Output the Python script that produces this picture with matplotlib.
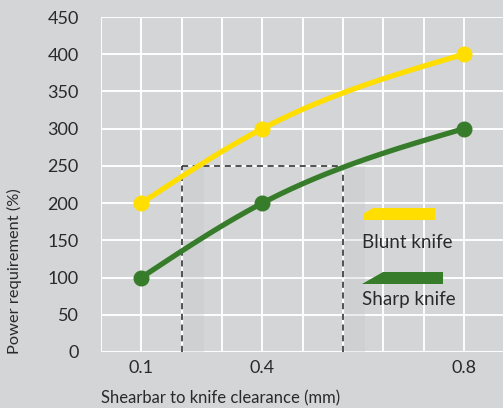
import numpy as np
import matplotlib
matplotlib.use("Agg")
from matplotlib import pyplot as plt
from matplotlib.patches import Polygon

# Data: clearance values sit on grid slots (one white column per slot)
clearance_labels = ["0.1", "0.4", "0.8"]
slot = [1, 4, 9]
blunt = [200, 300, 400]
sharp = [100, 200, 300]
marked_slots = [2, 6]
marked_power = 250

bg = "#d4d5d6"
yellow = "#ffde00"
green = "#367c2b"
text_color = "#2a2a2a"

plt.rcParams["font.family"] = ["Lato", "DejaVu Sans"]


def natural_spline(xs, ys, fine):
    """Natural cubic spline through the given points, evaluated on fine."""
    xs = np.asarray(xs, float)
    ys = np.asarray(ys, float)
    n = len(xs)
    h = np.diff(xs)
    a = np.zeros((n, n))
    r = np.zeros(n)
    a[0, 0] = a[-1, -1] = 1
    for i in range(1, n - 1):
        a[i, i - 1] = h[i - 1]
        a[i, i] = 2 * (h[i - 1] + h[i])
        a[i, i + 1] = h[i]
        r[i] = 6 * ((ys[i + 1] - ys[i]) / h[i] - (ys[i] - ys[i - 1]) / h[i - 1])
    m = np.linalg.solve(a, r)
    k = np.clip(np.searchsorted(xs, fine) - 1, 0, n - 2)
    x0, x1, hk = xs[k], xs[k + 1], h[k]
    return (m[k] * (x1 - fine) ** 3 / (6 * hk) + m[k + 1] * (fine - x0) ** 3 / (6 * hk)
            + (ys[k] / hk - m[k] * hk / 6) * (x1 - fine)
            + (ys[k + 1] / hk - m[k + 1] * hk / 6) * (fine - x0))


figure = plt.figure(figsize=(5.03, 4.08), dpi=100, facecolor=bg)
axis = figure.add_axes([0.2008, 0.1373, 0.7992, 0.821])
axis.set_facecolor(bg)

for side in axis.spines.values():
    side.set_visible(False)

axis.set_xlim(0, 9.97)
axis.set_ylim(0, 450)

# White grid: one column per slot, a row every 50 %
axis.set_xticks(np.arange(0, 10), minor=True)
axis.set_xticks(slot)
axis.set_xticklabels(clearance_labels)
axis.set_yticks(np.arange(0, 451, 50))
axis.grid(True, which="both", color="white", linewidth=1.4)
axis.set_axisbelow(True)
axis.tick_params(which="both", length=0, labelsize=13, colors=text_color)
axis.tick_params(axis="y", pad=16)
axis.tick_params(axis="x", pad=6)

# Faint shadow bands right of the dashed guides
for x0 in marked_slots:
    axis.axvspan(x0 + 0.05, x0 + 0.55, ymax=marked_power / 450, color="#c6c7c8",
                 alpha=0.3, linewidth=0, zorder=1)

# Smooth curves through the three measured points
fine = np.linspace(slot[0], slot[-1], 300)
for values, color in [(blunt, yellow), (sharp, green)]:
    axis.plot(fine, natural_spline(slot, values, fine), color=color, linewidth=3.8,
              solid_capstyle="round", zorder=3)
    axis.plot(slot, values, "o", color=color, markersize=10.5, zorder=4)

# Dashed guide box at 250 %
dash = dict(color="#222222", linewidth=1.1, linestyle=(0, (4, 3)), zorder=2)
axis.plot([marked_slots[0]] * 2, [0, marked_power], **dash)
axis.plot([marked_slots[1]] * 2, [0, marked_power], **dash)
axis.plot(marked_slots, [marked_power] * 2, **dash)

# Legend swatches drawn in figure pixels
def px(x, y):
    return (x / 503, 1 - y / 408)

blunt_swatch = [px(363, 220), px(363, 214), px(373, 208), px(435, 208), px(435, 220)]
sharp_swatch = [px(362, 284), px(383, 272), px(443, 272), px(443, 284)]
figure.patches.append(Polygon(blunt_swatch, closed=True, transform=figure.transFigure,
                              facecolor=yellow, edgecolor="none"))
figure.patches.append(Polygon(sharp_swatch, closed=True, transform=figure.transFigure,
                              facecolor=green, edgecolor="none"))
figure.text(*px(362, 242), "Blunt knife", fontsize=13.5, color=text_color, va="center")
figure.text(*px(362, 300), "Sharp knife", fontsize=13.5, color=text_color, va="center")

figure.text(*px(101, 398), "Shearbar to knife clearance (mm)", fontsize=12,
            color=text_color, va="center", ha="left")
figure.text(*px(14, 354), "Power requirement (%)", fontsize=11.8, color=text_color,
            rotation=90, va="bottom", ha="center")

plt.savefig("out.png", dpi=100, facecolor=bg)
